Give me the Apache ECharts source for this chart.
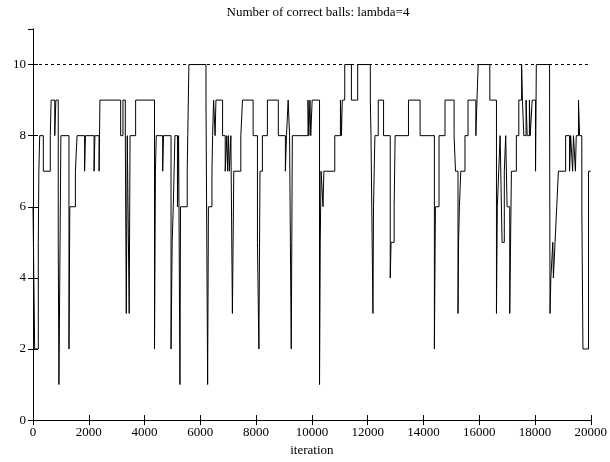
<!DOCTYPE html>
<html>
<head>
<meta charset="utf-8">
<script src="https://cdn.jsdelivr.net/npm/echarts@6/dist/echarts.min.js"></script>
<style>
  html, body { margin: 0; padding: 0; background: #fff; }
  #chart { width: 610px; height: 462px; }
</style>
</head>
<body>
<div id="chart"></div>
<script>
// change points of the step trace: value holds from iteration[i] until iteration[i+1]
var iterations = [
  0, 30, 60, 190, 210, 240, 370, 620, 650, 780, 820, 905, 930, 980, 1000,
  1290, 1320, 1520, 1580, 1850, 1880, 2190, 2220, 2370, 2400,
  3143, 3226, 3310, 3345, 3380, 3450, 3480, 3680,
  4357, 4390, 4420, 4650, 4680, 4950, 4990, 5030, 5090, 5180, 5220, 5270, 5290, 5530, 5550, 5570, 5590,
  6203, 6262, 6290, 6417, 6440, 6476, 6530, 6560, 6798, 6893, 6950, 6980, 7010, 7040, 7095, 7150, 7200, 7452, 7512, 7893,
  8048, 8100, 8140, 8226, 8405, 8796, 9050, 9090, 9150, 9200, 9230, 9260, 9300,
  9860, 9890, 9930, 9960, 10010, 10274, 10300, 10330, 10400, 10430, 10821, 11024, 11060, 11090, 11178, 11417, 11643,
  12096, 12120, 12190, 12210, 12235, 12260, 12380, 12571, 12810, 12840, 12950, 12985, 13464, 13881,
  14393, 14430, 14560, 14774, 15100, 15150, 15240, 15260, 15290, 15340, 15490, 15600, 15880, 15920, 15964, 16381,
  16619, 16650, 16700, 16750, 16820, 16900, 16950, 17000, 17095, 17155, 17333, 17420, 17520, 17550, 17600, 17680,
  17720, 17800, 17830, 17900, 18020, 18048, 18524, 18540, 18570, 18640, 18660, 18720, 18780, 18840, 19100, 19240,
  19280, 19350, 19380, 19450, 19480, 19560, 19600, 19680, 19700, 19720, 19920, 20000
];
var correctBalls = [
  6, 4, 2, 5, 7, 8, 7, 8, 9, 8, 9, 5, 1, 6, 8,
  2, 6, 7, 8, 7, 8, 7, 8, 7, 9,
  8, 9, 8, 3, 8, 3, 8, 9,
  2, 7, 8, 7, 8, 2, 5, 6, 8, 6, 8, 1, 6, 7, 8, 9, 10,
  9, 1, 6, 7, 8, 9, 8, 9, 8, 7, 8, 7, 8, 7, 8, 3, 7, 8, 9, 8,
  5, 2, 7, 8, 9, 8, 7, 8, 9, 8, 5, 2, 8,
  9, 8, 9, 8, 9, 1, 5, 7, 6, 7, 8, 9, 8, 9, 10, 9, 10,
  9, 8, 3, 6, 7, 8, 9, 8, 4, 5, 6, 8, 9, 8,
  2, 6, 8, 9, 8, 7, 3, 5, 6, 7, 8, 9, 8, 9, 10, 9,
  3, 6, 7, 8, 5, 7, 8, 6, 3, 7, 8, 9, 10, 9, 8, 9,
  8, 9, 8, 9, 7, 10, 9, 3, 4, 5, 4, 5, 6, 7, 8, 7,
  8, 7, 8, 7, 8, 9, 8, 6, 4, 2, 7, 7
];
var xTicks = [0, 2000, 4000, 6000, 8000, 10000, 12000, 14000, 16000, 18000, 20000];
var yTicks = [0, 2, 4, 6, 8, 10];
var refLevel = 10;

var chart = echarts.init(document.getElementById('chart'));
var serif = 'Liberation Serif';
var points = iterations.map(function(it, i) { return [it, correctBalls[i]] });

var axisBase = {
  type: 'value',
  axisLine: { show: true, lineStyle: { color: '#000', width: 1 } },
  axisTick: { show: true, inside: true, length: 5, lineStyle: { color: '#000' } },
  splitLine: { show: false }
};

chart.setOption({
  animation: false,
  backgroundColor: '#fff',
  title: {
    text: 'Number of correct balls: lambda=4',
    left: 313,
    textAlign: 'center',
    top: 1,
    textStyle: { fontFamily: serif, fontSize: 13, fontWeight: 'normal', color: '#000' }
  },
  grid: { left: 33, right: 17, top: 29, bottom: 34 },
  xAxis: [
    Object.assign({}, axisBase, {
      position: 'bottom',
      min: xTicks[0],
      max: xTicks[xTicks.length - 1],
      interval: 2000,
      name: 'iteration',
      nameLocation: 'middle',
      nameGap: 20,
      nameTextStyle: { fontFamily: serif, fontSize: 13, color: '#000' },
      axisLabel: {
        fontFamily: serif, fontSize: 13, color: '#000', margin: 6,
        formatter: function(v) { return String(v) }
      }
    }),
    Object.assign({}, axisBase, {
      position: 'top',
      min: xTicks[0],
      max: xTicks[xTicks.length - 1],
      interval: 2000,
      axisLabel: { show: false }
    })
  ],
  yAxis: [
    Object.assign({}, axisBase, {
      position: 'left',
      min: 0,
      max: 11,
      interval: 2,
      axisLabel: {
        fontFamily: serif, fontSize: 13, color: '#000', margin: 7,
        showMaxLabel: false,
        formatter: function(v) { return yTicks.indexOf(v) >= 0 ? String(v) : '' }
      }
    }),
    Object.assign({}, axisBase, {
      position: 'right',
      min: 0,
      max: 11,
      interval: 2,
      axisLabel: { show: false }
    })
  ],
  series: [
    {
      type: 'line',
      step: 'end',
      data: points,
      symbol: 'none',
      lineStyle: { color: '#000', width: 1 },
      markLine: {
        silent: true,
        symbol: ['none', 'none'],
        label: { show: false },
        lineStyle: { color: '#000', width: 1, type: [3, 3] },
        data: [{ yAxis: refLevel }]
      }
    }
  ]
})
</script>
</body>
</html>
